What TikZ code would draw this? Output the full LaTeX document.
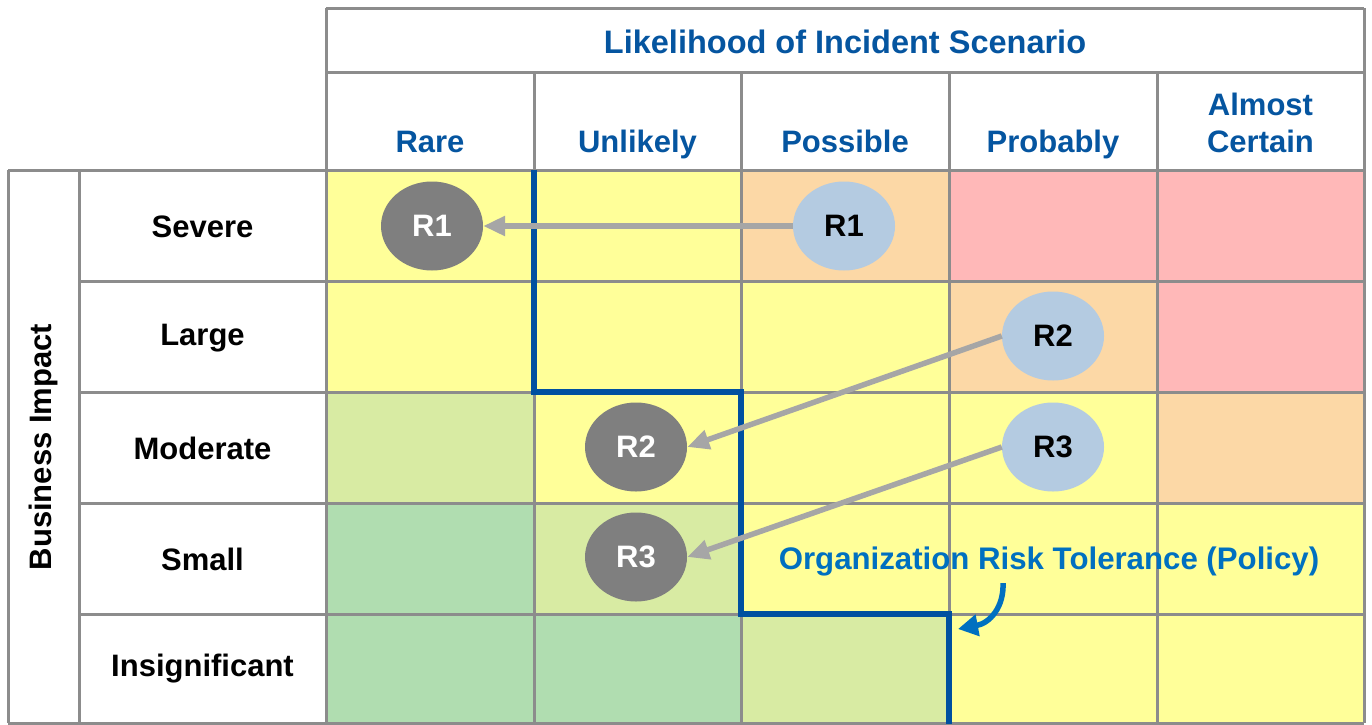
\documentclass[tikz,border=0pt]{standalone}
\usepackage{fontspec}
\setmainfont{Liberation Sans}
\usetikzlibrary{shapes.geometric,arrows.meta}

% cell shades of the risk matrix
\definecolor{cyel}{HTML}{FFFF99}
\definecolor{cpeach}{HTML}{FCD8A6}
\definecolor{cpink}{HTML}{FFB8B8}
\definecolor{clgreen}{HTML}{D8EBA3}
\definecolor{cgreen}{HTML}{B0DDB0}
% lines, text and markers
\definecolor{gridgray}{HTML}{8C8C8C}
\definecolor{hdrblue}{HTML}{0555A0}
\definecolor{lineblue}{HTML}{0050A0}
\definecolor{noteblue}{HTML}{0070C0}
\definecolor{dotgray}{HTML}{7F7F7F}
\definecolor{dotblue}{HTML}{B4CBE1}
\definecolor{arrgray}{HTML}{A6A6A6}

\tikzset{
  gridline/.style={draw=gridgray, line width=3pt},
  hdr/.style={text=hdrblue, font=\fontsize{31}{37}\selectfont\bfseries},
  rowlbl/.style={text=black, font=\fontsize{31}{37}\selectfont\bfseries},
  riskdot/.style={ellipse, minimum width=102pt, minimum height=89pt, inner sep=0pt,
    font=\fontsize{31}{37}\selectfont\bfseries},
  residual/.style={riskdot, fill=dotgray, text=white},
  inherent/.style={riskdot, fill=dotblue, text=black},
  movearrow/.style={draw=arrgray, line width=5.5pt,
    -{Triangle[length=22pt,width=19pt]}},
  tolerance/.style={draw=lineblue, line width=6pt},
  notearrow/.style={draw=noteblue, line width=5.5pt,
    -{Triangle[length=20pt,width=21pt]}},
}

\begin{document}
\begin{tikzpicture}[x=1pt,y=-1pt]
\useasboundingbox (0,0) rectangle (1372,724);

% column and row boundaries
\def\colx{{326,534,741,949,1157,1364}}
\def\rowy{{170,281,392,503,614,723}}

% coloured cells, one row at a time
\foreach \cs [count=\r from 0] in {
  {cyel,cyel,cpeach,cpink,cpink},
  {cyel,cyel,cyel,cpeach,cpink},
  {clgreen,cyel,cyel,cyel,cpeach},
  {cgreen,clgreen,cyel,cyel,cyel},
  {cgreen,cgreen,clgreen,cyel,cyel}}{
  \foreach \col [count=\c from 0] in \cs {
    \pgfmathsetmacro{\xa}{\colx[\c]}
    \pgfmathsetmacro{\xb}{\colx[\c+1]}
    \pgfmathsetmacro{\ya}{\rowy[\r]}
    \pgfmathsetmacro{\yb}{\rowy[\r+1]}
    \fill[\col] (\xa,\ya) rectangle (\xb,\yb);
  }
}

% table rules
\draw[gridline] (326,8) -- (1364,8);
\draw[gridline] (326,72) -- (1364,72);
\draw[gridline] (8,170) -- (1364,170);
\foreach \y in {281,392,503,614} \draw[gridline] (79,\y) -- (1364,\y);
\draw[gridline] (8,723) -- (1364,723);
\draw[gridline] (326,8) -- (326,723);
\draw[gridline] (1364,8) -- (1364,723);
\foreach \x in {534,741,949,1157} \draw[gridline] (\x,72) -- (\x,723);
\draw[gridline] (8,170) -- (8,723);
\draw[gridline] (79,170) -- (79,723);

% risk tolerance boundary
\draw[tolerance] (534,170) -- (534,392) -- (741,392) -- (741,614) -- (949,614) -- (949,724);

% headings
\node[hdr, font=\fontsize{32.5}{37}\selectfont\bfseries] (title) at (845,42) {Likelihood of Incident Scenario};
\node[hdr, anchor=base] (hrare) at (430,152) {Rare};
\node[hdr, anchor=base] (hunl) at (637.5,152) {Unlikely};
\node[hdr, anchor=base] (hpos) at (845,152) {Possible};
\node[hdr, anchor=base] (hprob) at (1053,152) {Probably};
\node[hdr, align=center] (hcert) at (1260.5,123) {Almost\\Certain};

\node[rowlbl, rotate=90] (impact) at (43,447) {Business Impact};
\node[rowlbl] (rsev) at (202.5,227) {Severe};
\node[rowlbl] (rlar) at (202.5,338) {Large};
\node[rowlbl] (rmod) at (202.5,448) {Moderate};
\node[rowlbl] (rsma) at (202.5,559) {Small};
\node[rowlbl] (rins) at (202.5,669) {Insignificant};

% risks before (blue) and after (grey) treatment
\node[residual] (g1) at (432,226) {R1};
\node[inherent] (b1) at (844,226) {R1};
\node[inherent] (b2) at (1053,336) {R2};
\node[residual] (g2) at (636,447) {R2};
\node[inherent] (b3) at (1053,447) {R3};
\node[residual] (g3) at (636,557) {R3};

\draw[movearrow] (b1) -- (g1);
\draw[movearrow] (b2.west) -- (g2.east);
\draw[movearrow] (b3.west) -- (g3.east);

% policy note
\node[text=noteblue, font=\fontsize{31.2}{37}\selectfont\bfseries] (note) at (1049,561)
  {Organization Risk Tolerance (Policy)};
\coordinate (notefoot) at (1003,583);
\coordinate (notetip) at (958,629);
\draw[notearrow] (notefoot) .. controls (1004,607) and (990,623) .. (notetip);
\end{tikzpicture}
\end{document}
